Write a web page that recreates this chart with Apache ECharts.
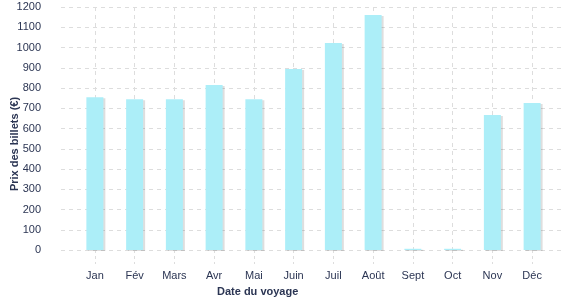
<!DOCTYPE html>
<html><head><meta charset="utf-8">
<script src="https://cdn.jsdelivr.net/npm/echarts@6/dist/echarts.min.js"></script>
<style>html,body{margin:0;padding:0;background:#fff}#c{width:577px;height:300px}</style>
</head><body><div id="c"></div>
<script>
const categories = ['Jan','Fév','Mars','Avr','Mai','Juin','Juil','Août','Sept','Oct','Nov','Déc'];
const prices = [754, 745, 745, 815, 745, 894, 1022, 1160, 6, 6, 667, 726];
const yMin = 0, yMax = 1200, yStep = 100;
const xTitle = 'Date du voyage';
const yTitle = 'Prix des billets (€)';

const txt = '#2b3553';
const font = 'Liberation Sans';
const step = 477 / 12;
const chart = echarts.init(document.getElementById('c'));
chart.setOption({
  animation: false,
  grid: [
    {left: 61, right: 14, top: 7, bottom: 50},
    {left: 75, right: 25, top: 7, bottom: 50},
    {left: 75 + step / 2, right: 25 + step / 2, top: 7, bottom: 50}
  ],
  xAxis: [
    {gridIndex: 0, type: 'value', show: false, min: 0, max: 1},
    {gridIndex: 1, type: 'category', data: categories,
     axisLine: {show: false},
     axisTick: {show: false},
     axisLabel: {color: txt, fontSize: 11, fontFamily: font, margin: 20},
     splitLine: {show: false}},
    {gridIndex: 2, type: 'category', data: categories, boundaryGap: false,
     axisLine: {show: false},
     axisTick: {show: true, length: 14, lineStyle: {color: '#ddd', type: [3,3]}},
     axisLabel: {show: false},
     splitLine: {show: true, lineStyle: {color: '#ddd', type: [4,4]}}}
  ],
  yAxis: [
    {gridIndex: 0, type: 'value', min: yMin, max: yMax, interval: yStep,
     axisLine: {show: false}, axisTick: {show: false},
     axisLabel: {color: txt, fontSize: 11, fontFamily: font, margin: 20, formatter: v => String(v)},
     splitLine: {lineStyle: {color: '#ddd', type: [4,4]}}},
    {gridIndex: 1, type: 'value', min: yMin, max: yMax, interval: yStep, show: false,
     splitLine: {show: false}},
    {gridIndex: 2, type: 'value', min: yMin, max: yMax, interval: yStep, show: false,
     splitLine: {show: false}}
  ],
  graphic: [
    {type: 'text', left: 217, top: 286, style: {text: xTitle, fill: txt, font: 'bold 11px "Liberation Sans"'}},
    {type: 'text', x: 9, y: 144, rotation: Math.PI/2, style: {text: yTitle, fill: txt, font: 'bold 11px "Liberation Sans"', align: 'center', verticalAlign: 'top'}}
  ],
  series: [{
    type: 'bar', xAxisIndex: 1, yAxisIndex: 1, data: prices, barWidth: 17, z: 5,
    itemStyle: {color: '#aceef8', shadowColor: 'rgba(0,0,0,0.13)', shadowOffsetX: 2, shadowOffsetY: 1, shadowBlur: 0}
  }]
});
</script></body></html>
